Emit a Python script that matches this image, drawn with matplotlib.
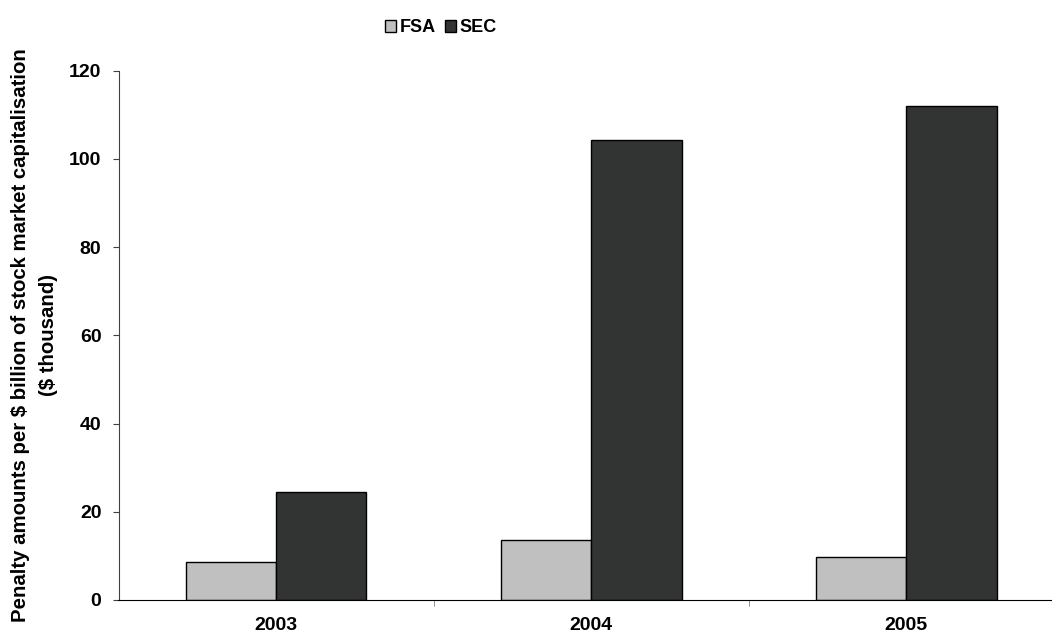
import matplotlib
matplotlib.use('Agg')
import matplotlib.pyplot as plt
import numpy as np

years = ['2003', '2004', '2005']
fsa = [8.7, 13.5, 9.8]
sec = [24.5, 104.2, 111.9]
series_names = ['FSA', 'SEC']
yticks = [0, 20, 40, 60, 80, 100, 120]
ylabel = 'Penalty amounts per $ billion of stock market capitalisation\n($ thousand)'

plt.rcParams['font.family'] = ['Liberation Sans', 'DejaVu Sans']
plt.rcParams['font.weight'] = 'bold'

fig = plt.figure(figsize=(10.52, 6.37), dpi=100)
# axes runs slightly past the right edge, as in the cropped original
ax = fig.add_axes([118.5 / 1052, 37 / 637, 945.3 / 1052, 529.3 / 637])

x = np.arange(len(years))
w = 0.287
ax.bar(x - w / 2, fsa, w, color='#c0c0c0', edgecolor='black', linewidth=1, label=series_names[0])
ax.bar(x + w / 2, sec, w, color='#323433', edgecolor='black', linewidth=1, label=series_names[1])

ax.set_xlim(-0.5, len(years) - 0.5)
ax.set_ylim(0, 120)
ax.set_yticks(yticks)
ax.set_yticklabels([str(t) for t in yticks], fontsize=14, fontweight='bold')
ax.set_xticks(x)
ax.set_xticklabels(years, fontsize=14, fontweight='bold')
ax.tick_params(axis='x', length=0, pad=12.5)
ax.set_xticks(x[:-1] + 0.5, minor=True)
ax.tick_params(axis='x', which='minor', length=4.3, color='#808080', direction='out')
ax.tick_params(axis='y', length=4.3, direction='out', pad=8, color='#404040')

for s in ['top', 'right']:
    ax.spines[s].set_visible(False)
ax.spines['left'].set_color('#404040')
ax.spines['bottom'].set_color('black')

ax.set_ylabel(ylabel, fontsize=14.7, fontweight='bold', labelpad=8, linespacing=1.6)

fig.legend(loc='center', bbox_to_anchor=(441 / 1052, 1 - 28 / 637), ncol=2, frameon=False,
           prop={'size': 13, 'weight': 'bold'}, handlelength=0.6, handleheight=0.6,
           handletextpad=0.2, columnspacing=0.5)

fig.savefig('out.png', dpi=100)
